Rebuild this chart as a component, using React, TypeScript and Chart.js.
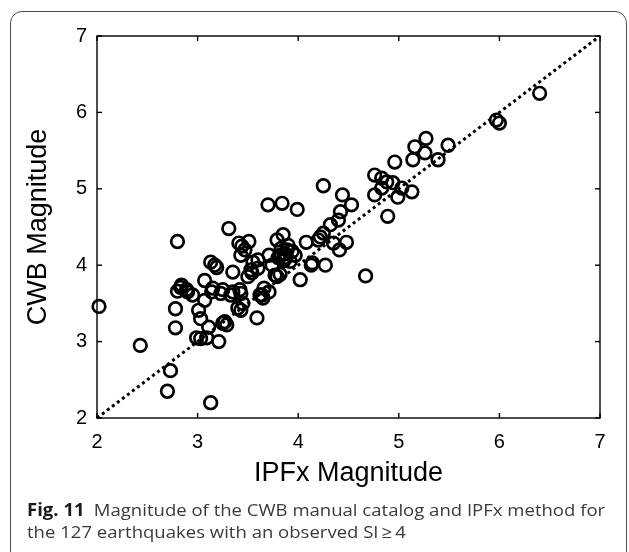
import React, { useEffect, useRef } from "react";
import { Chart, registerables } from "chart.js";

Chart.register(...registerables);

// IPFx magnitude (x) and CWB magnitude (y)
const ipfxMagnitude = [
  2.02, 2.43, 2.73, 2.70, 3.13, 2.80, 2.78, 2.78, 2.80, 2.83,
  2.90, 2.95, 2.99, 3.03, 3.09, 3.21, 3.11, 3.03, 3.01, 3.07,
  3.07, 3.13, 3.19, 3.15, 3.23, 3.33, 3.43, 3.45, 3.43, 3.27,
  3.29, 3.31, 3.35, 3.41, 3.44, 3.51, 3.43, 3.47, 3.55, 3.53,
  3.50, 3.59, 3.65, 3.71, 3.62, 3.70, 3.84, 3.99, 3.85, 3.79,
  3.83, 3.90, 3.71, 3.80, 3.86, 3.79, 3.82, 3.89, 3.87, 4.02,
  4.13, 4.27, 4.08, 4.22, 4.14, 4.25, 4.44, 4.53, 4.42, 4.40,
  4.32, 4.25, 4.48, 4.35, 4.41, 4.67, 4.76, 4.83, 4.88, 4.94,
  5.03, 5.13, 4.99, 4.76, 4.83, 4.89, 4.96, 5.14, 5.39, 5.26,
  5.16, 5.27, 5.49, 5.97, 6.00, 6.40, 3.60, 3.60, 3.54, 3.77,
  3.82, 3.17, 3.64, 3.40, 3.25, 3.35, 3.42, 2.89, 2.84, 3.97,
  3.92, 3.74, 3.66, 3.25, 3.14, 4.20, 3.88, 3.94, 3.85,
];
const cwbMagnitude = [
  3.46, 2.95, 2.62, 2.35, 2.20, 4.31, 3.43, 3.18, 3.66, 3.71,
  3.65, 3.61, 3.05, 3.04, 3.05, 3.00, 3.19, 3.30, 3.41, 3.54,
  3.80, 4.04, 3.97, 3.70, 3.63, 3.61, 3.63, 3.50, 3.41, 3.26,
  3.22, 4.48, 3.91, 4.29, 4.25, 4.31, 4.13, 4.20, 4.04, 3.94,
  3.85, 3.31, 3.57, 3.65, 3.61, 4.79, 4.81, 4.73, 4.40, 4.33,
  4.22, 4.26, 4.13, 4.10, 4.06, 3.85, 3.88, 4.20, 4.15, 3.81,
  4.00, 4.00, 4.30, 4.37, 4.03, 5.04, 4.92, 4.79, 4.70, 4.59,
  4.53, 4.42, 4.30, 4.29, 4.20, 3.86, 5.18, 5.14, 5.09, 5.08,
  5.01, 4.96, 4.89, 4.92, 5.01, 4.64, 5.35, 5.38, 5.38, 5.47,
  5.55, 5.66, 5.57, 5.90, 5.86, 6.25, 4.07, 3.96, 3.90, 3.87,
  4.13, 4.00, 3.61, 3.44, 3.68, 3.65, 3.68, 3.68, 3.74, 4.13,
  4.05, 4.00, 3.70, 3.24, 3.65, 4.33, 4.10, 4.18, 4.08,
];
// 1:1 reference line end points
const oneToOneLine = [2, 7];
const axisTicks = [2, 3, 4, 5, 6, 7];
const xTitle = "IPFx Magnitude";
const yTitle = "CWB Magnitude";

const FONT = "'Liberation Sans', Arial, Helvetica, sans-serif";

const boxPlugin = {
  id: "boxTicks",
  afterDraw(chart: any) {
    const { ctx, chartArea: a, scales } = chart;
    const xs = scales.x;
    const ys = scales.y;
    ctx.save();
    ctx.strokeStyle = "#000";
    ctx.lineWidth = 1.4;
    ctx.strokeRect(a.left, a.top, a.right - a.left, a.bottom - a.top);
    const L = 5;
    const seg = (x1: number, y1: number, x2: number, y2: number) => {
      ctx.beginPath();
      ctx.moveTo(x1, y1);
      ctx.lineTo(x2, y2);
      ctx.stroke();
    };
    axisTicks.forEach((v) => {
      const px = xs.getPixelForValue(v);
      seg(px, a.bottom, px, a.bottom - L);
      seg(px, a.top, px, a.top + L);
      const py = ys.getPixelForValue(v);
      seg(a.left, py, a.left + L, py);
      seg(a.right, py, a.right - L, py);
    });
    ctx.restore();
  },
};

function ScatterChart() {
  const ref = useRef<HTMLCanvasElement | null>(null);
  useEffect(() => {
    if (!ref.current) return;
    const points = ipfxMagnitude.map((x, i) => ({ x, y: cwbMagnitude[i] }));
    const line = oneToOneLine.map((v) => ({ x: v, y: v }));
    const chart = new Chart(ref.current, {
      type: "scatter",
      data: {
        datasets: [
          {
            type: "scatter",
            data: points,
            pointStyle: "circle",
            pointRadius: 6.3,
            pointHoverRadius: 6.3,
            borderWidth: 2.7,
            pointBorderWidth: 2.7,
            borderColor: "#000",
            pointBorderColor: "#000",
            backgroundColor: "rgba(0,0,0,0)",
            pointBackgroundColor: "rgba(0,0,0,0)",
            clip: false,
          } as any,
          {
            type: "line",
            data: line,
            borderColor: "#000",
            borderWidth: 3,
            borderDash: [3, 3.3],
            pointRadius: 0,
            fill: false,
            clip: false,
          } as any,
        ],
      },
      options: {
        animation: false,
        responsive: false,
        maintainAspectRatio: false,
        layout: { padding: { top: 36, right: 29, left: 0, bottom: 0 } },
        plugins: { legend: { display: false }, tooltip: { enabled: false } },
        scales: {
          x: {
            type: "linear",
            min: 2,
            max: 7,
            afterFit: (s: any) => {
              s.height = 82;
            },
            afterBuildTicks: (s: any) => {
              s.ticks = axisTicks.map((v) => ({ value: v }));
            },
            ticks: {
              font: { family: FONT, size: 20 },
              color: "#000",
              padding: 12,
              maxRotation: 0,
              autoSkip: false,
            },
            grid: { display: false, drawTicks: false },
            border: { display: false },
            title: {
              display: true,
              text: xTitle,
              color: "#000",
              font: { family: FONT, size: 27 },
              padding: { top: 0, bottom: 10 },
            },
          },
          y: {
            type: "linear",
            min: 2,
            max: 7,
            afterFit: (s: any) => {
              s.width = 97;
            },
            afterBuildTicks: (s: any) => {
              s.ticks = axisTicks.map((v) => ({ value: v }));
            },
            ticks: {
              font: { family: FONT, size: 20 },
              color: "#000",
              padding: 10,
              autoSkip: false,
            },
            grid: { display: false, drawTicks: false },
            border: { display: false },
            title: {
              display: true,
              text: yTitle,
              color: "#000",
              font: { family: FONT, size: 27 },
              padding: { top: 22, bottom: 0 },
            },
          },
        },
      } as any,
      plugins: [boxPlugin],
    });
    return () => chart.destroy();
  }, []);
  return (
    <canvas
      ref={ref}
      width={629}
      height={500}
      style={{ position: "absolute", left: 0, top: 0, width: 629, height: 500 }}
    />
  );
}

export default function App() {
  return (
    <div
      style={{
        position: "fixed",
        left: 0,
        top: 0,
        width: 629,
        height: 552,
        background: "#fff",
        overflow: "hidden",
      }}
    >
      <div
        style={{
          position: "absolute",
          left: 10,
          top: 11,
          width: 617,
          height: 600,
          border: "1px solid #4a4a4a",
          borderRadius: 12,
          boxSizing: "border-box",
        }}
      />
      <ScatterChart />
      <div
        style={{
          position: "absolute",
          left: 27,
          top: 499,
          width: 560,
          fontFamily: "'Open Sans', 'Noto Sans', sans-serif",
          fontSize: 17,
          lineHeight: "22px",
          color: "#3a3a3a",
          whiteSpace: "nowrap",
          transform: "scaleX(1.09)",
          transformOrigin: "0 0",
        }}
      >
        <div>
          <span style={{ fontWeight: 700, color: "#1a1a1a" }}>Fig. 11</span>
          {"\u2002Magnitude of the CWB manual catalog and IPFx method for"}
        </div>
        <div>{"the 127 earthquakes with an observed SI\u2009\u2265\u20094"}</div>
      </div>
    </div>
  );
}
